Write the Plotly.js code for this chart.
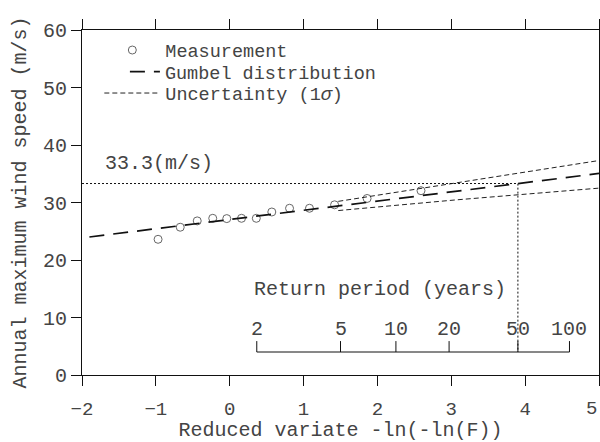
<!DOCTYPE html>
<html>
<head>
<meta charset="utf-8">
<script src="https://cdn.plot.ly/plotly-3.0.1.min.js"></script>
<style>html,body{margin:0;padding:0;background:#fff}#chart{width:600px;height:442px}</style>
</head>
<body>
<div id="chart"></div>
<script>
// Measurements (reduced variate, wind speed m/s)
var measX = [-0.97, -0.67, -0.44, -0.23, -0.04, 0.16, 0.36, 0.57, 0.81, 1.08, 1.42, 1.86, 2.59];
var measY = [23.6, 25.7, 26.8, 27.25, 27.2, 27.25, 27.25, 28.35, 29.0, 29.0, 29.6, 30.7, 32.05];
// Gumbel fit line
var gumbelX = [-1.9, 5.0];
var gumbelY = [24.0, 35.05];
// Uncertainty (1 sigma)
var upperX = [1.47, 3.06, 5.0];
var upperY = [30.2, 33.35, 37.3];
var lowerX = [1.47, 3.06, 5.0];
var lowerY = [28.6, 30.45, 32.5];
// 50-year design value
var designValue = 33.3;
var designPeriod = 50;
// Return period axis
var returnPeriods = [2, 5, 10, 20, 50, 100];
var returnLabels = ['2', '5', '10', '20', '50', '100'];
var returnAxisY = 4;
// Main x-axis ticks
var xTickVals = [-2, -1, 0, 1, 2, 3, 4, 5];
var xTickText = ['\u22122', '\u22121', '0', '1', '2', '3', '4', '5'];

function reducedVariate(T) { return -Math.log(-Math.log(1 - 1 / T)); }
var returnX = returnPeriods.map(reducedVariate);
var designX = reducedVariate(designPeriod);

var FONT = 'Liberation Mono, Courier New, monospace';
var TXT = '#444';
var xMin = -2, xMax = 5, yMin = 0, yMax = 60;
var tickH = 1.9; // return-period tick height in y units

// Return period axis path (baseline + ticks) built from returnX
var raX = [returnX[0], returnX[returnX.length - 1], null];
var raY = [returnAxisY, returnAxisY, null];
returnX.forEach(function (v) { raX.push(v, v, null); raY.push(returnAxisY, returnAxisY + tickH, null); });

var traces = [
  {x: measX, y: measY, mode: 'markers', name: 'Measurement', legend: 'legend',
   marker: {symbol: 'circle-open', size: 8, color: '#666', line: {width: 1}}},
  {x: gumbelX, y: gumbelY, mode: 'lines', name: 'Gumbel distribution', legend: 'legend2',
   line: {color: '#111', width: 1.7, dash: '15px,9px'}},
  {x: upperX, y: upperY, mode: 'lines', name: 'Uncertainty (1<i>σ</i>)', legend: 'legend3',
   line: {color: '#222', width: 1, dash: '5px,3px'}},
  {x: lowerX, y: lowerY, mode: 'lines', name: 'lower', showlegend: false,
   line: {color: '#222', width: 1, dash: '5px,3px'}},
  {x: [xMin, designX, designX], y: [designValue, designValue, returnAxisY], mode: 'lines',
   showlegend: false, line: {color: '#111', width: 1, dash: '2px,2px'}},
  {x: raX, y: raY, mode: 'lines', showlegend: false, line: {color: '#111', width: 1}}
];

var annotations = [
  {x: xMin + 0.28, y: 36.8, xref: 'x', yref: 'y', text: designValue.toFixed(1) + '(m/s)',
   showarrow: false, xanchor: 'left', yanchor: 'middle', font: {family: FONT, size: 20, color: TXT}},
  {x: returnX[0] - 0.07, y: 14.8, xref: 'x', yref: 'y', text: 'Return period (years)',
   showarrow: false, xanchor: 'left', yanchor: 'middle', font: {family: FONT, size: 20, color: TXT}},
  // last main-axis label, kept inside the page
  {x: 1, y: -0.099, xref: 'paper', yref: 'paper', text: xTickText[xTickText.length - 1],
   showarrow: false, xanchor: 'right', yanchor: 'middle', font: {family: FONT, size: 19, color: TXT}}
];
returnX.forEach(function (v, i) {
  annotations.push({x: v, y: returnAxisY + 3.9, xref: 'x', yref: 'y', text: returnLabels[i],
    showarrow: false, xanchor: 'center', yanchor: 'middle', font: {family: FONT, size: 20, color: TXT}});
});

var legendCommon = {font: {family: FONT, size: 18.5, color: TXT}, bgcolor: 'rgba(0,0,0,0)',
  borderwidth: 0, xanchor: 'left', yanchor: 'middle', tracegroupgap: 0};

var layout = {
  width: 600, height: 442,
  margin: {l: 82, r: 1, t: 30, b: 67, pad: 0},
  paper_bgcolor: '#fff', plot_bgcolor: '#fff',
  font: {family: FONT, size: 20, color: TXT},
  showlegend: true,
  legend: Object.assign({}, legendCommon, {x: 0.0335, y: (375 - 50.5) / 345, itemwidth: 56}),
  legend2: Object.assign({}, legendCommon, {x: 0.083, y: (375 - 72) / 345}),
  legend3: Object.assign({}, legendCommon, {x: 0.0335, y: (375 - 93.5) / 345, itemwidth: 56}),
  xaxis: {
    range: [xMin, xMax], showgrid: false, zeroline: false,
    showline: true, linecolor: '#111', linewidth: 1, mirror: 'allticks',
    ticks: 'outside', ticklen: 10, tickcolor: '#111', tickwidth: 1,
    tickmode: 'array', tickvals: xTickVals,
    ticktext: xTickText.slice(0, -1).concat(['']),
    tickfont: {family: FONT, size: 19, color: TXT}, ticklabelstandoff: 6,
    title: {text: 'Reduced variate -ln(-ln(F))', font: {family: FONT, size: 20, color: TXT}, standoff: 6}
  },
  yaxis: {
    range: [yMin, yMax], showgrid: false, zeroline: false,
    showline: true, linecolor: '#111', linewidth: 1, mirror: 'allticks',
    ticks: 'outside', ticklen: 10, tickcolor: '#111', tickwidth: 1,
    dtick: 10, tickfont: {family: FONT, size: 20, color: TXT},
    title: {text: 'Annual maximum wind speed (m/s)', font: {family: FONT, size: 20, color: TXT}, standoff: 10}
  },
  annotations: annotations
};

Plotly.newPlot('chart', traces, layout, {staticPlot: true, displayModeBar: false});
</script>
</body>
</html>
